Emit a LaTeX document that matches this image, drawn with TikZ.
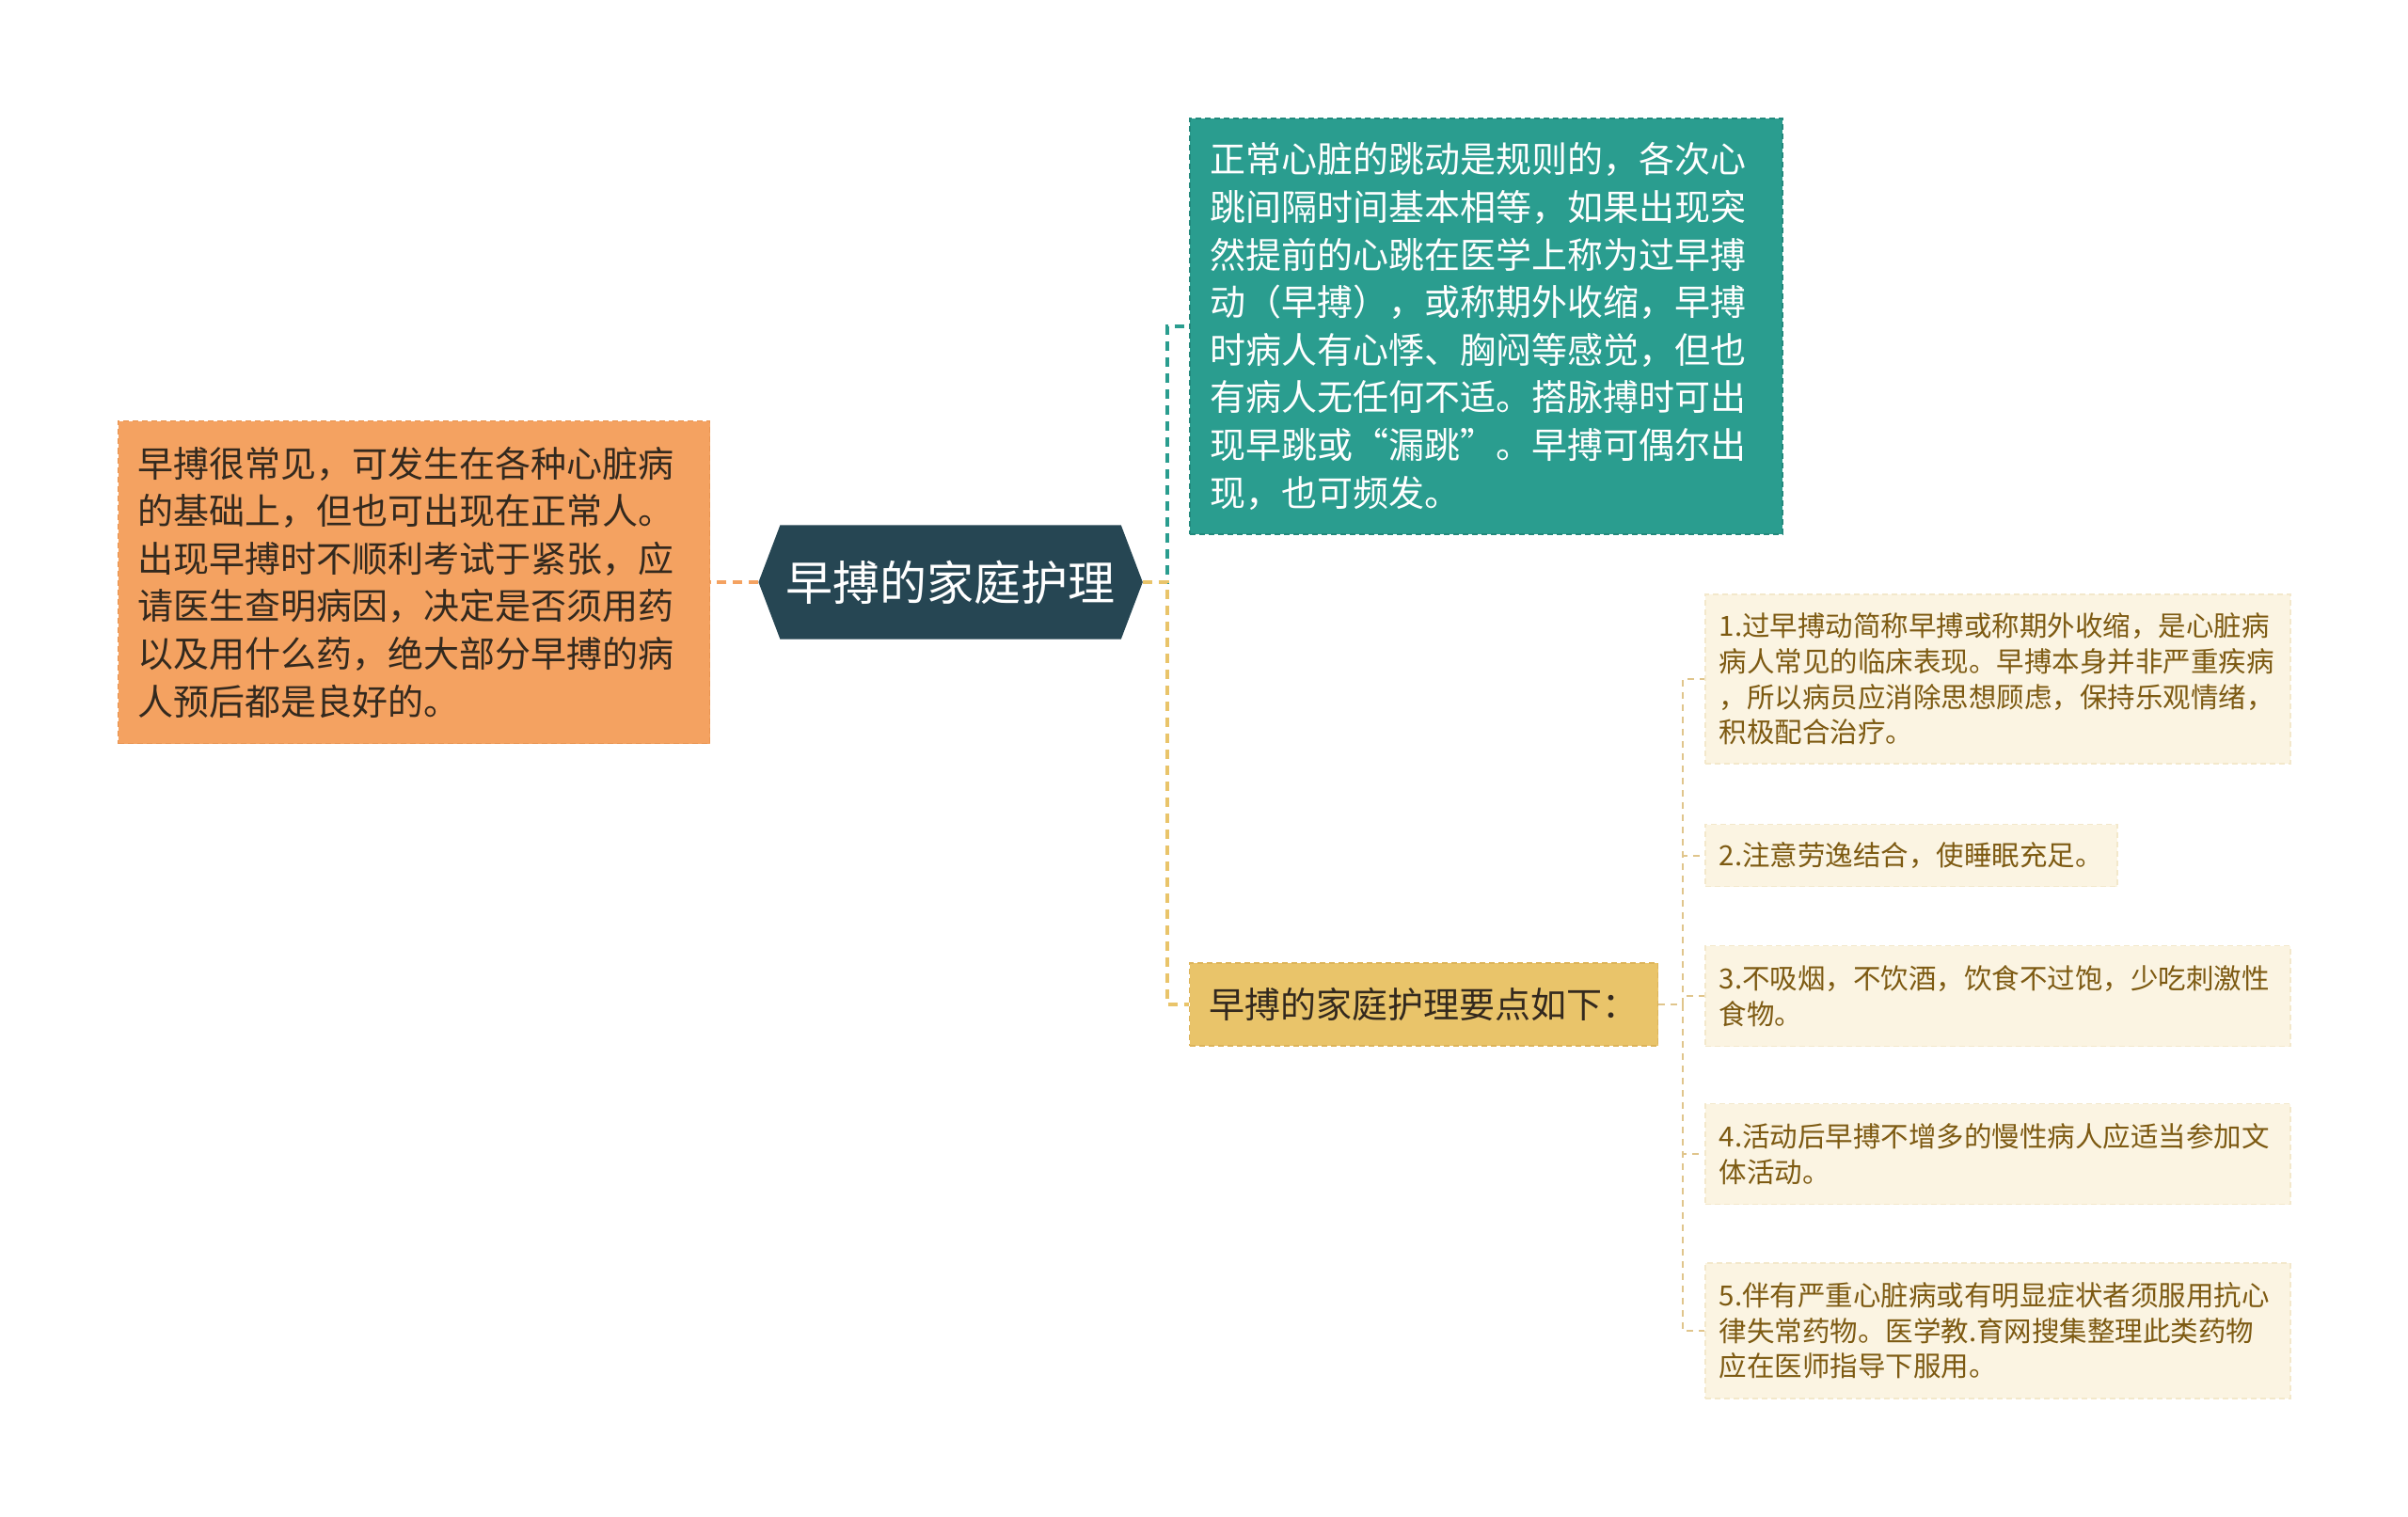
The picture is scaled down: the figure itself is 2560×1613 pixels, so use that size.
\documentclass[tikz,border=0pt]{standalone}
\usepackage{fontspec}
\setmainfont{Noto Sans CJK SC}
\usetikzlibrary{backgrounds}
\definecolor{navy}{HTML}{264653}
\definecolor{sea}{HTML}{2A9D8F}
\definecolor{sealine}{HTML}{23897D}
\definecolor{sand}{HTML}{E9C46A}
\definecolor{sandline}{HTML}{DDB45A}
\definecolor{tan}{HTML}{E0C58C}
\definecolor{peach}{HTML}{F4A261}
\definecolor{peachline}{HTML}{E99450}
\definecolor{cream}{HTML}{FBF4E2}
\definecolor{creamline}{HTML}{F3E8CB}
\definecolor{darktext}{HTML}{33291E}
\definecolor{itemtext}{HTML}{7D5A12}

\begin{document}
\begin{tikzpicture}[x=1pt, y=-1pt,
	box/.style={inner xsep=21pt, inner ysep=8pt, align=left, font=\fontsize{38}{50.6}\selectfont, dash pattern=on 6pt off 4pt, line width=1.5pt},
	item/.style={anchor=west, fill=cream, draw=creamline, dash pattern=on 6pt off 4pt, line width=1.5pt, text=itemtext, inner xsep=15pt, inner ysep=6pt, align=left, font=\fontsize{29.5}{37.6}\selectfont},
	link/.style={line width=4pt, dash pattern=on 10pt off 7pt},
	sublink/.style={tan, line width=2pt, dash pattern=on 7pt off 6pt}]
	\useasboundingbox (0, 0) rectangle (2560, 1613);
	
	\node[minimum width=408pt, minimum height=121pt, inner sep=0pt, text=white, font=\fontsize{50}{60}\selectfont] (root) at (1010.6, 619) {早搏的家庭护理};
	\begin{scope}[on background layer]
	\fill[navy] (root.west) -- ([xshift=23pt]root.north west) -- ([xshift=-23pt]root.north east) -- (root.east) -- ([xshift=-23pt]root.south east) -- ([xshift=23pt]root.south west) -- cycle;
	\end{scope}
	
	\node[box, fill=peach, draw=peachline, text=darktext, text width=587pt, minimum height=343pt] (cause) at (440, 619) {早搏很常见，可发生在各种心脏病\\的基础上，但也可出现在正常人。\\出现早搏时不顺利考试于紧张，应\\请医生查明病因，决定是否须用药\\以及用什么药，绝大部分早搏的病\\人预后都是良好的。};
	\node[box, fill=sea, draw=sealine, text=white, text width=588pt, minimum height=442pt] (pulse) at (1580, 347) {正常心脏的跳动是规则的，各次心\\跳间隔时间基本相等，如果出现突\\然提前的心跳在医学上称为过早搏\\动（早搏），或称期外收缩，早搏\\时病人有心悸、胸闷等感觉，但也\\有病人无任何不适。搭脉搏时可出\\现早跳或“漏跳”。早搏可偶尔出\\现，也可频发。};
	\node[box, fill=sand, draw=sandline, text=darktext, minimum height=88pt] (tips) at (1513.5, 1068) {早搏的家庭护理要点如下：};
	
	\node[item, text width=592pt, minimum height=180pt] (tip1) at (1812, 722) {1.过早搏动简称早搏或称期外收缩，是心脏病\\病人常见的临床表现。早搏本身并非严重疾病\\，所以病员应消除思想顾虑，保持乐观情绪，\\积极配合治疗。};
	\node[item, minimum height=66pt] (tip2) at (1812, 909.5) {2.注意劳逸结合，使睡眠充足。};
	\node[item, text width=592pt, minimum height=107pt] (tip3) at (1812, 1059) {3.不吸烟，不饮酒，饮食不过饱，少吃刺激性\\食物。};
	\node[item, text width=592pt, minimum height=107pt] (tip4) at (1812, 1227) {4.活动后早搏不增多的慢性病人应适当参加文\\体活动。};
	\node[item, text width=592pt, minimum height=144pt] (tip5) at (1812, 1415) {5.伴有严重心脏病或有明显症状者须服用抗心\\律失常药物。医学教.育网搜集整理此类药物\\应在医师指导下服用。};
	
	\draw[link, peach] (root.west) -- (cause.east);
	\draw[link, sea] (root.east) -- ++(26, 0) |- (pulse.west);
	\draw[link, sand] (root.east) -- ++(26, 0) |- (tips.west);
	\foreach \n in {1, ..., 5}
	\draw[sublink] (tips.east) -- ++(26, 0) |- (tip\n.west);
\end{tikzpicture}
\end{document}
